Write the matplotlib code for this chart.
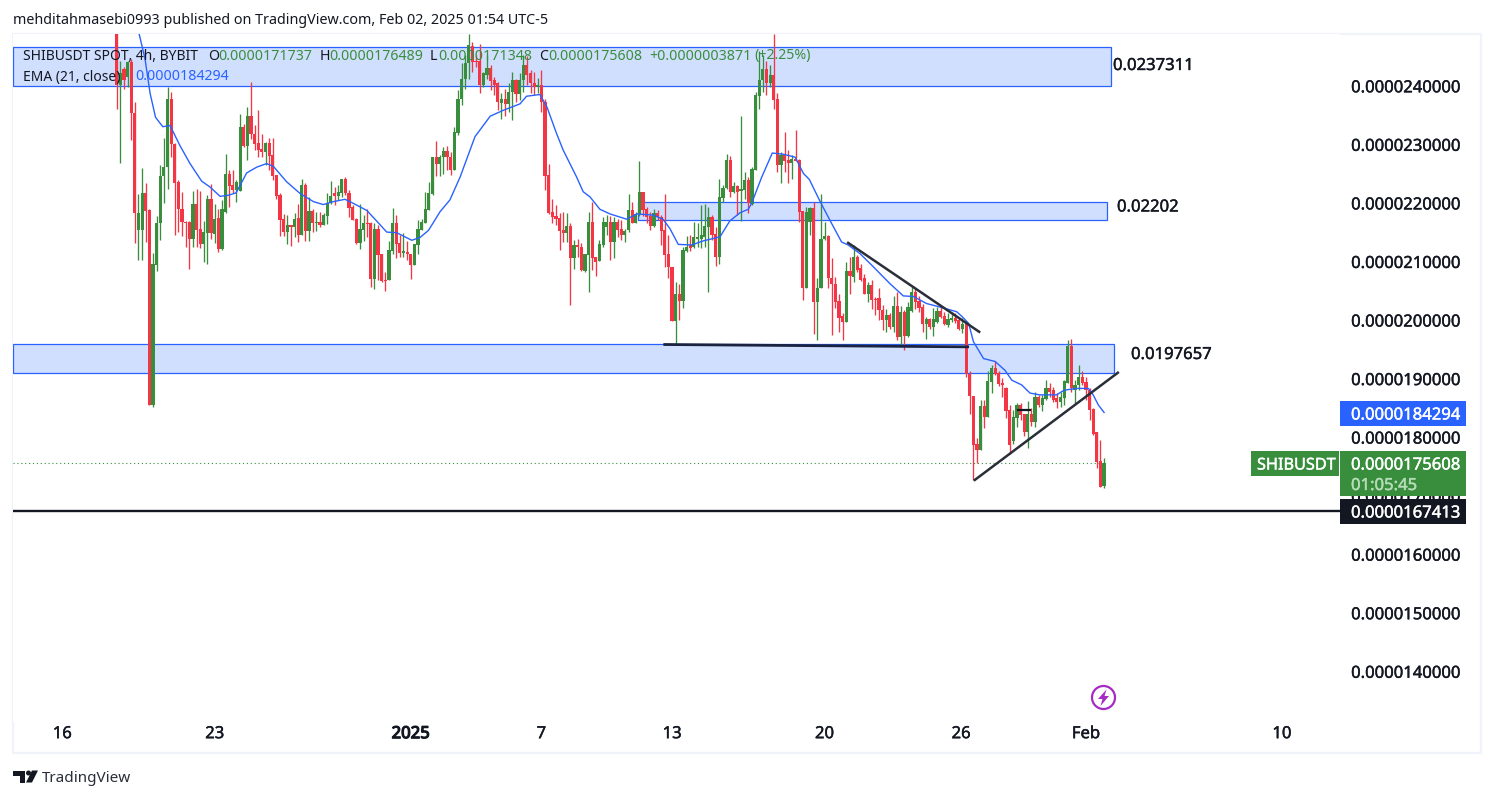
import matplotlib
matplotlib.use("Agg")
import matplotlib.pyplot as plt
import matplotlib.patheffects as pe
from matplotlib.patches import Rectangle, Polygon, Circle
from matplotlib import transforms

# prices are in units of 1e-7 USDT
opens = [252,240.3,243,241.6,244.2,235.5,215.4,215.4,221.7,218.8,
185.6,209.4,216.6,224.6,226.2,237.9,230.2,223.6,219.1,216.9,
216.8,213.9,219.9,215.6,213,214.9,220.7,214.8,217.5,212.2,
218.6,225.1,223.1,222.3,222.1,233,229.8,234.9,231.9,230.3,
229.3,228.7,230.3,228.2,224.8,221.4,217.3,215.1,216.3,215.9,
217.5,214.6,223.1,215.3,218.7,216.7,216.8,216.3,217.9,220,
221.7,221.3,221.7,224.1,221.8,219.4,217.4,213.2,215.4,216.7,
216.7,207.1,215.6,211.3,207,206.9,211.8,216.6,213.2,211.6,
211.7,211.4,209.5,212.9,215.4,216.7,218.8,221.6,228,226.7,
227.9,229,228,225.7,232,237.9,241.3,244,246.9,244.4,
244.3,240.3,242,243.1,241,240.5,237.2,237.9,236.9,239,
241.1,238.6,241,243.6,242.2,240.6,239.9,240.3,237.3,224.8,
218.6,217.8,217.5,215.4,215,216.1,210.6,212.9,212.5,208.5,
211.2,216.9,210.8,210.2,212.9,216,216.9,213.4,216.9,215.6,
214.6,215.4,218.8,216.7,218,222,219,217.9,216.1,218.4,
217.7,215.4,211.3,209.2,199.9,204.6,203.4,211.9,212.9,212.5,
213.9,214,214.3,216,217.7,214.7,210.9,220.9,222.7,227.4,
222,222.9,222.1,222.3,224,219.9,225.7,238.4,241,242.9,
240.5,241.9,237.8,226.6,228.2,227.4,226.9,227.5,227.4,218.7,
205.6,216.9,219.2,203.2,205.6,214,214.4,207.2,206.3,203.3,
200.8,199.8,208.4,207.5,210.9,209,207.2,204.6,206,203.6,
203.8,201.8,200.1,200.9,198.9,202.5,197.2,201.4,197.3,201.6,
204.8,203.4,202.3,199.4,200.2,198.9,199.8,201.6,200.8,199.2,
200.1,200.5,200.1,198.5,199.5,190.85,187.1,178.9,177.9,185.4,
183.6,189.5,191.9,191,189.3,188.4,184.7,179.5,183.3,185.6,
184,181,184,182.7,186.9,185.6,186.6,188.4,188.1,186.8,
186,186.7,189.4,195.6,188.1,188.9,190.4,189.5,188.2,184.9,
180.9,176,171.737]
highs = [254,244.4,243.3,244.4,244.7,237.3,221.6,226,223.4,219.1,
211.5,217.8,226.5,231.2,239.9,239,230.3,224,222,217,
217,222.1,222.4,222.1,217,221.4,223.3,219.9,219,220.5,
228.4,225.7,225.7,224,235.3,233.6,236.4,240.7,233.4,235.9,
231.9,230.5,231.1,231.1,224.8,221.8,218.2,218,216.3,218.3,
219.9,224.2,223.4,221.1,219.1,218.6,218.6,218.3,221.7,223.8,
222.8,223.1,224.1,224.5,222.3,219.7,217.5,219.9,218,219,
216.9,216.6,216.3,211.3,208.3,213.6,219.2,218,214.6,214.9,
213.6,211.4,213.1,217.1,217.4,222,223.7,228,230.6,228.2,
229.7,229.8,228.8,233,239.4,243.9,245.3,248.9,247.5,245.3,
247.2,242.5,245.3,243.7,241.6,240.7,238.8,239.6,240.5,242.5,
241.3,242.2,245.3,245.1,242.7,242.5,241.5,242.7,237.9,226.8,
220.8,219.7,218.3,218.6,218.4,216.7,213.7,214,213.2,211.4,
218.6,220.3,210.9,213.7,217.7,218,217.8,217.7,217.4,217.1,
215.7,221.6,220.3,218.6,227.2,222,219.4,218.6,219.1,218.8,
218,221.6,214.6,209.2,206.5,206.3,212.6,214.4,214.6,216.9,
216.6,219.7,219.9,219.4,218,216,224.2,223.1,228.4,228.1,
223.7,223.1,234.9,225.4,224.5,226.2,239,246.1,245.3,244.4,
243.6,248.9,238.8,228.8,232.2,229.1,228.2,232.5,227.5,218.7,
219.4,219.4,220.3,207.2,221.6,216.9,214.6,210.6,207.5,204.6,
201.2,210,210.9,212.9,211.2,209.7,208,206.6,206.9,204,
205.5,202.6,202,201.2,204.2,204.9,202.5,201.8,203.2,205.8,
205.8,204.1,202.9,200.6,200.4,202.1,202.3,202.6,201.5,201.2,
201.5,201.2,200.5,200.4,200,191.4,187.1,180,186.4,186.4,
191.3,192.4,193.1,191.3,190.1,188.7,185.6,184.7,185.9,185.9,
184.1,186.2,185,187.8,187.3,187.3,189.8,189.3,188.7,187.6,
187.8,189.8,196.7,196.8,189.8,192.4,191.3,190.4,188.4,185,
181,179.6,176.489]
lows = [236.2,226.9,239.6,239.9,230.8,213.3,210.4,210.4,213.4,185.6,
185.3,208.5,213.8,220,222.5,228,214.6,215.2,214.4,212.6,
208.8,212.6,212.5,212.3,210,209.6,214,213.2,211.7,212,
218.4,219.3,221.7,220.3,222.1,229.7,227.4,231,229.1,227.9,
227.9,226.5,225.7,224,220.8,214.5,214.4,213,212.8,214.2,
213.4,214.6,213.6,213.6,215.2,215.3,216,216.3,216.5,219.9,
219.7,220.5,221.1,221.4,217.6,217.1,213,212.2,213.6,214.3,
205.8,205.4,206.9,206.6,205.1,206.9,211.3,210.6,210.9,210.9,
210.3,207.1,209.5,211.3,215.4,216.7,218.8,221.4,224.7,224.7,
225.1,225.7,224.8,225.7,231.6,236.8,239.6,241.3,242.4,243.3,
238.9,239.9,241.3,239.4,238.5,235.9,234.5,235,235.6,234.3,
237.3,237.6,239,240.2,238.8,238.5,238.8,235.6,222.3,218.2,
216.7,216.3,212,213.4,213.4,202.6,208.8,210.9,208.5,208.3,
204.9,208.6,207.6,210.2,212.6,214.6,210.3,210.6,214.3,213.7,
213.4,215.2,216.6,216.7,217.9,217.8,216.6,215.4,216,217.1,
212.9,209.2,207.2,199.9,195.9,200.1,202.2,211.7,211.8,212.3,
212.6,212.3,212.6,204.9,213.7,209.3,209.6,220.3,222.5,221.1,
221.7,218,217,220.8,218.4,219.7,225.7,236.2,239,238.5,
239.9,236.1,225.4,223.5,225.4,223.5,224.2,227.3,216.9,203.5,
205.6,214.6,197.7,196.6,205.5,213.8,205.5,197.5,202.2,198.1,
196.6,199.8,204.6,206.6,208.3,206.8,204.5,203.2,201.9,200.9,
200.1,198.4,198.1,198.6,198.1,196.7,195.5,195,197.2,201.5,
202,201.5,198.1,196.9,198.6,197.3,199.5,200.4,199.2,198.9,
199.8,199.5,198.4,197.9,190.4,184,172.8,175.6,177.8,181.6,
183.6,187.7,190.7,188.8,187,183.3,177.2,178.9,181.8,183,
180.2,178.2,182,181.8,185.2,184.6,186.4,186.9,186.1,185,
185.3,185.6,189.3,187.8,185.8,188.1,189,186.4,183,180.4,
174.8,171.6,171.348]
closes = [240.2,242.2,241,244.2,235.5,218.3,218.4,221.7,218.7,185.6,
209.6,216.6,224.6,226.3,237.9,230.1,223.5,219.1,216.9,216.7,
213.9,219.9,215.4,213,215.2,220.7,214.9,217.4,212.2,219,
225.1,222.9,222.3,223.6,233,229.8,234.9,231.8,230.1,229.1,
228.7,230.3,228.1,224.7,221.2,217.1,215.1,216.3,215.9,217.4,
214.6,223.1,215.3,218.7,216.7,216.9,216.3,218,220,221.3,
221.3,221.9,224.1,221.8,219.2,217.2,213.2,215.6,216.7,216.5,
207.1,215.6,211.2,206.8,206.8,212,216.6,213,211.6,211.8,
211.3,209.5,213,215.6,216.8,219,221.7,228,226.7,228,
229,227.9,225.7,232.2,237.9,241.3,244,247,244.2,244.2,
240.3,242.3,243.1,240.9,240.3,237.3,237.9,237,239,241.1,
238.6,241.1,243.6,242,240.5,239.8,240.3,237.3,224.7,218.4,
217.7,217.3,215.3,215,216.1,210.6,212.9,212.5,208.6,211.3,
216.9,210.6,210,213,216.8,216.9,213.4,216.9,215.5,214.6,
215.3,218.8,216.7,218.2,221.9,218.8,217.6,216.1,218.3,217.6,
215.3,211.2,209.1,199.9,204.6,203.4,212,212.6,212.3,214.2,
214.2,214.6,216.1,217.7,214.6,210.9,221.1,222.7,227.4,222,
222.9,222,222.4,224,220,225.8,238.5,241.1,242.9,240.5,
241.9,237.6,226.6,228.2,227.2,226.9,227.5,227.3,218.6,205.6,
218.6,219.2,203.2,205.6,214,214.4,207.2,206.2,203.2,200.5,
199.8,208.4,207.6,210.8,208.7,207,204.6,206,203.5,203.5,
201.8,200.1,200.9,198.9,202.5,197.2,201.4,197.3,202.3,204.8,
203.2,202.2,199.4,200.3,198.9,200.3,201.6,200.6,199.4,200.2,
200.5,200,198.5,199.4,190.85,187.1,178.7,177.9,185.4,183.6,
189.7,191.9,190.8,189.1,189,184.6,178.7,183.5,185.6,183.9,
181,184,182.7,186.9,185.6,186.7,188.4,187.8,186.5,186,
186.9,189.7,195.6,188.4,189,190.4,189.4,188.1,184.7,180.7,
175.9,171.6,175.608]

ema_bar = [6.2,7.8,9.2,10.7,12.7,14.7,17.4,20.2,23.4,25.7,28.5,30.8,32.9,35.8,38.6,41.3,43.2,46.8,50.5,54.2,
56.9,59.7,62.9,65.2,68.9,71.6,74.4,77.1,81.3,83.6,85.9,89.1,91.8,94.6,98.7,102.9,106.5,111.1,112.9,116.6,
118.5,121.2,123,126.7,128.5,130.4,133.1,135.9,140.5,143.3,147.8,150.5,152.4,154.7,158.4,161.6,164.3,166.2,168.9,171.7,
174,174.9,177.7,180.6,183.6,186.9,189.2,190.8,193.8,196.5,199.7,201.5,204.8,208.4,213,216.7,219.5,223.1,226.8,231.4,
233,234.7,236,238.8,242,244.7,246.6,249.3,251.6,254.3,258.9,261,264.5,267.7,269,270.4,272]
ema_val = [248.9,244.7,238.8,234.7,233.1,233.3,229.9,226.8,223.8,222.8,221.2,221.4,221.8,225.2,226.2,226.8,226.3,223.7,221.7,220.3,
219.8,220.3,220.7,220,218.8,217,215.1,215,213.7,214.2,215.4,218.6,220.6,224.5,231.4,234.9,235.9,237,238.3,238.6,
236.5,231.9,229.1,224.5,222,221.1,219,218.2,217.3,218.2,218,217.3,215.7,213,212.9,213.6,214,214.3,217,218.4,
219,220,224.5,228.6,228.4,227.9,225.1,224.1,220.3,217.1,213.4,212.9,211.4,209.2,206.3,204.2,204.1,202.9,202.3,201.5,
200.6,199.5,196.4,193.5,193,191.5,189.8,189,187.6,187.3,187.3,188.1,188.4,188.4,187.3,185.6,184.294]

price_ticks = [240,230,220,210,200,190,180,170,160,150,140]
price_labels = ["0.0000240000","0.0000230000","0.0000220000","0.0000210000","0.0000200000","0.0000190000",
                "0.0000180000","0.0000170000","0.0000160000","0.0000150000","0.0000140000"]
time_ticks = [-15,27,81,117,153,195,232.6,267,321]
time_labels = ["16","23","2025","7","13","20","26","Feb","10"]

W, H = 1494, 798
RED, GREEN, BLUE, INK = "#f23645", "#388e3c", "#2962ff", "#131722"
FONT = "Noto Sans"
plt.rcParams["font.family"] = [FONT, "DejaVu Sans"]

fig = plt.figure(figsize=(W/100, H/100), dpi=100, facecolor="white")
L, R, T, B = 13, 1340, 34, 722
ax = fig.add_axes([L/W, 1-B/H, (R-L)/W, (B-T)/H])
X0, DX = 116.7, 3.63
Y0, DY = 86.3, 5.855
ax.set_xlim((L-X0)/DX, (R-X0)/DX)
ax.set_ylim(240-(B-Y0)/DY, 240+(Y0-T)/DY)
for s in ax.spines.values():
    s.set_visible(False)

px = transforms.Affine2D().scale(1/W, -1/H).translate(0, 1) + fig.transFigure

def thick(color, w=0.3):
    return [pe.withStroke(linewidth=w, foreground=color)]

# pane frame
fig.add_artist(Rectangle((12.5, 33.5), 1468, 719.5, transform=px, fill=False, ec="#f0f3fa", lw=1.6, zorder=0))

# zones
xl = ax.get_xlim()[0]
ZONE = "#d1dfff"
for x0, x1, y0, y1 in [(xl, 273.9, 240, 246.7), (143.7, 272.8, 217.1, 220.3), (xl, 274.8, 191, 196)]:
    ax.add_patch(Rectangle((x0, y0), x1-x0, y1-y0, fc=ZONE, ec=BLUE, lw=0.9, zorder=1))

# candles
xs = list(range(len(opens)))
cols = [GREEN if c >= o else RED for o, c in zip(opens, closes)]
ax.vlines(xs, lows, highs, colors=cols, lw=0.95, zorder=2)
ax.bar(xs, [abs(c-o) for o, c in zip(opens, closes)], bottom=[min(o, c) for o, c in zip(opens, closes)],
       width=0.88, color=cols, lw=0, zorder=3)

# EMA
ax.plot(ema_bar, ema_val, color=BLUE, lw=1.0, zorder=4, solid_joinstyle="round")

# drawings
ax.axhline(167.413, color=INK, lw=1.7, zorder=5)
ax.plot([xl, 272], [175.608, 175.608], color=GREEN, lw=0.8, ls=(0, (1, 2.5)), zorder=1.5)
ax.plot([150.6, 234.8], [195.9, 195.5], color="#1a2340", lw=2.0, zorder=5, solid_capstyle="butt")
ax.plot([201.5, 237.6], [213.26, 198.07], color="#2a2e39", lw=1.8, zorder=5)
ax.plot([236.4, 275.8], [172.77, 191.08], color="#2a2e39", lw=1.8, zorder=5)
ax.plot([248.3, 251.6], [184.7, 184.7], color=INK, lw=1.6, zorder=5)

# axes ticks
SIZE = 12
ax.yaxis.tick_right()
ax.set_yticks(price_ticks, price_labels)
ax.set_xticks(time_ticks, time_labels)
ax.tick_params(axis="both", length=0, labelcolor=INK)
ax.tick_params(axis="y", pad=8, labelsize=SIZE)
ax.tick_params(axis="x", pad=3, labelsize=SIZE)
for lab in ax.get_yticklabels():
    lab.set_va("center_baseline")
    lab.set_path_effects(thick(INK))
for lab in ax.get_xticklabels():
    lab.set_path_effects(thick(INK))
ax.get_xticklabels()[2].set_path_effects(thick(INK, 0.9))

# zone value labels
def ptext(x, y, s, stroke=0.3, **kw):
    kw.setdefault("va", "center_baseline")
    kw.setdefault("ha", "left")
    kw.setdefault("color", INK)
    kw.setdefault("fontsize", SIZE)
    t = fig.text(x/W, 1-y/H, s, zorder=20, **kw)
    if stroke:
        t.set_path_effects(thick(kw["color"], stroke))
    return t

ptext(1113, 64, "0.0237311")
ptext(1117, 205.5, "0.02202")
ptext(1131, 353, "0.0197657")

# price labels on the scale
def box(x0, y0, x1, y1, c):
    fig.add_artist(Rectangle((x0, y0), x1-x0, y1-y0, transform=px, fc=c, ec="none", zorder=15))

box(1340, 401, 1466, 426, BLUE)
ptext(1351, 413.5, "0.0000184294", color="white")
box(1340, 451, 1466, 496, GREEN)
ptext(1351, 463.5, "0.0000175608", color="white")
ptext(1351, 484, "01:05:45", color="#b7dcb9")
box(1251, 451, 1339, 476, GREEN)
ptext(1257, 463.5, "SHIBUSDT", color="white", fontsize=11.7)
box(1340, 499, 1466, 524, INK)
ptext(1351, 511.5, "0.0000167413", color="white")

# header and legend
ptext(13, 19, "mehditahmasebi0993 published on TradingView.com, Feb 02, 2025 01:54 UTC-5", fontsize=10.3, stroke=0)
LEG = 10.2
ptext(23, 54, "SHIBUSDT SPOT, 4h, BYBIT", fontsize=10, stroke=0)
for x, s, c in [(208, "O", INK), (218, "0.0000171737", GREEN), (320, "H", INK), (329, "0.0000176489", GREEN),
                (430, "L", INK), (438, "0.0000171348", GREEN), (539, "C", INK), (548, "0.0000175608", GREEN),
                (649, "+0.0000003871", GREEN), (754, "(+2.25%)", GREEN)]:
    ptext(x, 54, s, fontsize=LEG, color=c, stroke=0)
ptext(23, 75, "EMA (21, close)", fontsize=10, stroke=0)
ptext(135, 75, "0.0000184294", fontsize=LEG, color=BLUE, stroke=0)

# lightning badge
PURPLE = "#a62bc4"
fig.add_artist(Circle((1103.5, 697.5), 11.5, transform=px, fc="white", ec=PURPLE, lw=1.6, zorder=12))
fig.add_artist(Polygon([(1106.5, 689.5), (1098, 699), (1102.5, 699), (1100.5, 706), (1109, 696), (1104.5, 696)],
                       transform=px, fc=PURPLE, ec="none", zorder=13))

# TradingView logo
fig.add_artist(Polygon([(13, 770.5), (25, 770.5), (25, 782.5), (19.5, 782.5), (19.5, 775.5), (13, 775.5)],
                       transform=px, fc=INK, ec="none"))
fig.add_artist(Circle((28.5, 773), 2.5, transform=px, fc=INK, ec="none"))
fig.add_artist(Polygon([(32, 770.5), (38, 770.5), (32, 782.5), (26, 782.5)], transform=px, fc=INK, ec="none"))
ptext(42, 777, "TradingView", fontsize=11, color="#2a2e39", stroke=0)

fig.savefig("out.png", dpi=100)
